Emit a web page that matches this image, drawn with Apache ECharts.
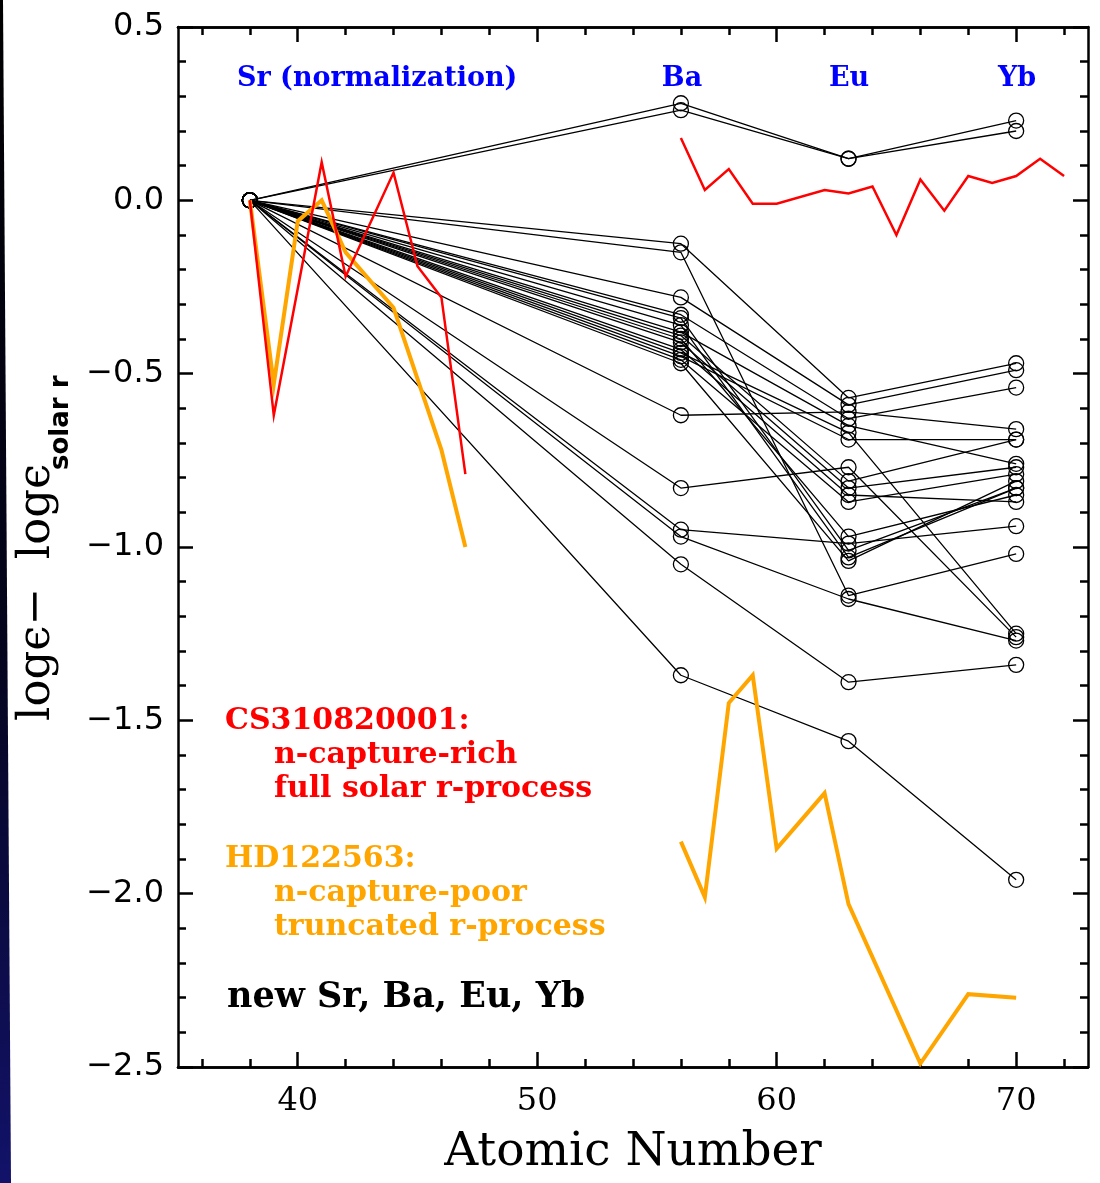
<!DOCTYPE html>
<html>
<head>
<meta charset="utf-8">
<script src="https://cdn.jsdelivr.net/npm/echarts@6/dist/echarts.min.js"></script>
<style>
  html, body { margin: 0; padding: 0; background: #ffffff; }
  #chart { width: 1100px; height: 1183px; }
</style>
</head>
<body>
<div id="chart"></div>
<script>
// Atomic numbers of the four measured elements: Sr, Ba, Eu, Yb
const elementZ = [38, 56, 63, 70];
const srNorm = 0; // every star is normalized to Sr

// Per-star abundances relative to the solar r-process (one entry per star)
const starBa = [0.28, 0.26, -0.125, -0.15, -0.28, -0.33, -0.34, -0.38, -0.39, -0.40, -0.41, -0.44, -0.45, -0.46, -0.47, -0.62, -0.83, -0.95, -0.97, -1.05, -1.37, -0.43, -0.36];
const starEu = [0.12, 0.12, -0.57, -1.14, -0.59, -0.63, -1.01, -0.65, -0.81, -0.97, -0.83, -0.67, -0.69, -0.87, -1.04, -0.61, -0.77, -0.99, -1.15, -1.39, -1.56, -0.85, -1.03];
const starYb = [0.23, 0.20, -0.47, -1.02, -0.49, -0.54, -0.83, -0.76, -0.69, -0.85, -0.77, -1.25, -0.69, -0.79, -0.81, -0.66, -1.26, -0.94, -1.27, -1.34, -1.96, -0.87, -0.83];

// CS 31082-001 (n-capture-rich), light and heavy element groups
const csLightZ = [38, 39, 41, 42, 44, 45, 46, 47];
const csLightVal = [0.0, -0.62, 0.11, -0.22, 0.08, -0.19, -0.28, -0.79];
const csHeavyZ = [56, 57, 58, 59, 60, 62, 63, 64, 65, 66, 67, 68, 69, 70, 71, 72];
const csHeavyVal = [0.18, 0.03, 0.09, -0.01, -0.01, 0.03, 0.02, 0.04, -0.10, 0.06, -0.03, 0.07, 0.05, 0.07, 0.12, 0.07];

// HD 122563 (n-capture-poor), light and heavy element groups
const hdLightZ = [38, 39, 40, 41, 42, 44, 46, 47];
const hdLightVal = [0.0, -0.53, -0.06, 0.0, -0.15, -0.31, -0.72, -1.0];
const hdHeavyZ = [56, 57, 58, 59, 60, 62, 63, 66, 68, 70];
const hdHeavyVal = [-1.85, -2.01, -1.45, -1.37, -1.87, -1.71, -2.03, -2.49, -2.29, -2.30];

// Axis ticks
const xMajorTicks = [40, 50, 60, 70];
const xMinorTicks = [36, 38, 42, 44, 46, 48, 52, 54, 56, 58, 62, 64, 66, 68, 72];

const zip = (xs, ys) => xs.map((x, i) => [x, ys[i]]);

const chart = echarts.init(document.getElementById('chart'), null, { renderer: 'canvas' });

const series = [];
starBa.forEach((ba, i) => {
  series.push({
    type: 'line',
    data: zip(elementZ, [srNorm, ba, starEu[i], starYb[i]]),
    symbol: 'circle',
    symbolSize: 15,
    itemStyle: { color: 'rgba(0,0,0,0)', borderColor: '#000', borderWidth: 1.3 },
    lineStyle: { color: '#000', width: 1.3 },
    emphasis: { disabled: true },
    silent: true,
    animation: false,
    z: 2
  });
});

function starLine(xs, ys, color, width) {
  return {
    type: 'line',
    data: zip(xs, ys),
    symbol: 'none',
    lineStyle: { color: color, width: width, join: 'miter' },
    silent: true,
    animation: false,
    z: 3
  };
}
series.push(starLine(hdLightZ, hdLightVal, '#FFA500', 4));
series.push(starLine(hdHeavyZ, hdHeavyVal, '#FFA500', 4));
series.push(starLine(csLightZ, csLightVal, '#FF0000', 2.5));
series.push(starLine(csHeavyZ, csHeavyVal, '#FF0000', 2.5));

const axisLineStyle = { show: true, onZero: false, lineStyle: { color: '#000', width: 2.5 } };

function xAxisDef(position, ticks, len, withLabels) {
  return {
    type: 'value', min: 35, max: 73, position: position,
    axisLine: axisLineStyle,
    splitLine: { show: false },
    axisTick: { show: true, inside: true, length: len, customValues: ticks, lineStyle: { color: '#000', width: 2.5 } },
    axisLabel: withLabels
      ? { show: true, customValues: xMajorTicks, margin: 19, color: '#000', fontFamily: 'DejaVu Serif', fontSize: 32 }
      : { show: false },
    name: withLabels ? 'Atomic Number' : '',
    nameLocation: 'middle',
    nameGap: 62,
    nameTextStyle: { color: '#000', fontFamily: 'DejaVu Serif', fontSize: 47 }
  };
}

function yAxisDef(position, withLabels) {
  return {
    type: 'value', min: -2.5, max: 0.5, interval: 0.5, position: position,
    axisLine: axisLineStyle,
    splitLine: { show: false },
    axisTick: { show: true, inside: true, length: 15, lineStyle: { color: '#000', width: 2.5 } },
    minorTick: { show: true, splitNumber: 5, length: 8, lineStyle: { color: '#000', width: 2.5 } },
    minorSplitLine: { show: false },
    axisLabel: withLabels
      ? { show: true, margin: 14, color: '#000', fontFamily: 'DejaVu Sans', fontSize: 32,
          formatter: v => v.toFixed(1).replace('-', '\u2212') }
      : { show: false }
  };
}

const noteFont = 'DejaVu Serif';
function label(text, x, y, color, size, align) {
  return {
    type: 'text', x: x, y: y, silent: true, z: 10,
    style: {
      text: text, fill: color, fontFamily: noteFont, fontWeight: 'bold', fontSize: size,
      textAlign: align || 'left', textVerticalAlign: 'middle',
      align: align || 'left', verticalAlign: 'middle'
    }
  };
}

chart.setOption({
  animation: false,
  backgroundColor: '#ffffff',
  grid: { left: 178, right: 12, top: 27, bottom: 116, containLabel: false },
  xAxis: [
    xAxisDef('bottom', xMajorTicks, 15, true),
    xAxisDef('bottom', xMinorTicks, 8, false),
    xAxisDef('top', xMajorTicks, 15, false),
    xAxisDef('top', xMinorTicks, 8, false)
  ],
  yAxis: [yAxisDef('left', true), yAxisDef('right', false)],
  series: series,
  graphic: [
    // dark slide edge at the left border
    {
      type: 'polygon', silent: true, z: 20,
      shape: { points: [[0, 0], [3, 0], [11, 1183], [0, 1183]] },
      style: {
        fill: new echarts.graphic.LinearGradient(0, 0, 0, 1, [
          { offset: 0, color: '#000000' },
          { offset: 0.55, color: '#05051e' },
          { offset: 1, color: '#12126a' }
        ])
      }
    },
    // y axis title with subscript
    {
      type: 'text', x: 37, y: 721, rotation: Math.PI / 2, silent: true, z: 10,
      style: {
        text: 'log\u03f5\u2212  log\u03f5', fill: '#000', fontFamily: 'DejaVu Serif', fontSize: 45,
        textAlign: 'left', textVerticalAlign: 'middle', align: 'left', verticalAlign: 'middle'
      }
    },
    {
      type: 'text', x: 61, y: 470, rotation: Math.PI / 2, silent: true, z: 10,
      style: {
        text: 'solar r', fill: '#000', fontFamily: 'DejaVu Sans', fontWeight: 'bold', fontSize: 26,
        textAlign: 'left', textVerticalAlign: 'middle', align: 'left', verticalAlign: 'middle'
      }
    },
    // element labels
    label('Sr (normalization)', 237, 79, '#0000FF', 27),
    label('Ba', 682, 79, '#0000FF', 27, 'center'),
    label('Eu', 849, 79, '#0000FF', 27, 'center'),
    label('Yb', 1017, 79, '#0000FF', 27, 'center'),
    // star descriptions
    label('CS310820001:', 225, 721, '#FF0000', 30),
    label('n-capture-rich', 274, 755, '#FF0000', 30),
    label('full solar r-process', 274, 789, '#FF0000', 30),
    label('HD122563:', 225, 859, '#FFA500', 30),
    label('n-capture-poor', 274, 893, '#FFA500', 30),
    label('truncated r-process', 274, 927, '#FFA500', 30),
    label('new Sr, Ba, Eu, Yb', 227, 998, '#000000', 35)
  ]
});
</script>
</body>
</html>
